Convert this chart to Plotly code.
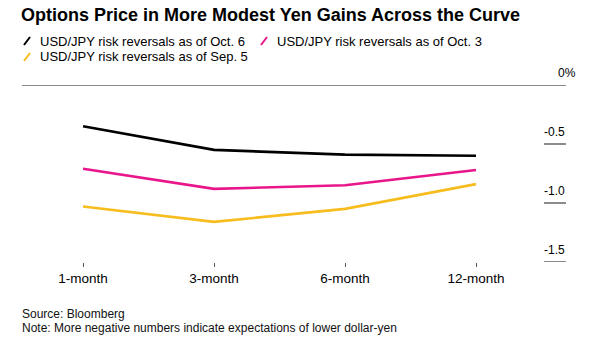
import plotly.graph_objects as go

# ---- data ----
categories = ["1-month", "3-month", "6-month", "12-month"]
oct6 = [-0.35, -0.55, -0.59, -0.60]
oct3 = [-0.71, -0.88, -0.85, -0.72]
sep5 = [-1.03, -1.16, -1.05, -0.84]
series_names = [
    "USD/JPY risk reversals as of Oct. 6",
    "USD/JPY risk reversals as of Oct. 3",
    "USD/JPY risk reversals as of Sep. 5",
]
y_tick_vals = [0, -0.5, -1.0, -1.5]
y_tick_text = ["0%", "-0.5", "-1.0", "-1.5"]
title_text = "Options Price in More Modest Yen Gains Across the Curve"
source_text = "Source: Bloomberg"
note_text = "Note: More negative numbers indicate expectations of lower dollar-yen"

colors = ["#000000", "#e8168a", "#f7bc1e"]
FONT = "Liberation Sans, Arial, sans-serif"

# the page's body margin is removed below (post_script), so figure px == page px
W, H = 615, 356
PL, PR, PT, PB = 22, 566, 85, 262   # plot box in px
ML, MR, MT, MB = PL, W - PR, PT, H - PB
pw, ph = PR - PL, PB - PT


def fx(x_px):
    """page x pixel -> paper fraction"""
    return (x_px - PL) / pw


def fy(y_px):
    """page y pixel -> paper fraction"""
    return (PB - y_px) / ph


fig = go.Figure()
for vals, name, col in zip([oct6, oct3, sep5], series_names, colors):
    fig.add_trace(go.Scatter(x=categories, y=vals, mode="lines", name=name,
                             line=dict(color=col, width=2.6), showlegend=False,
                             hoverinfo="skip"))

shapes = []
annotations = []
GRAY = "#8c8c8c"
# zero line, full width
shapes.append(dict(type="line", xref="paper", yref="y", x0=0, x1=1, y0=0, y1=0,
                   line=dict(color=GRAY, width=2), layer="below"))
# short tick segments + labels on the right
for v, t in zip(y_tick_vals, y_tick_text):
    if v != 0:
        shapes.append(dict(type="line", xref="paper", yref="y",
                           x0=fx(544), x1=1, y0=v, y1=v,
                           line=dict(color=GRAY, width=2)))
    annotations.append(dict(xref="paper", yref="y", x=1, y=v, text=t,
                            showarrow=False, xanchor="right", yanchor="bottom",
                            xshift=12 if t.endswith("%") else 1, yshift=3,
                            font=dict(family=FONT, size=12, color="#000")))

# custom legend (slash icon + text)
leg_rows = [(24, 40, 41, 0), (261, 277, 41, 1), (24, 40, 57, 2)]
for (ix, tx, ty, i) in leg_rows:
    shapes.append(dict(type="line", xref="paper", yref="paper",
                       x0=fx(ix), x1=fx(ix + 6), y0=fy(ty + 4), y1=fy(ty - 4),
                       line=dict(color=colors[i], width=2)))
    annotations.append(dict(xref="paper", yref="paper",
                            x=fx(tx - 2), y=fy(ty),
                            text=series_names[i], showarrow=False,
                            xanchor="left", yanchor="middle",
                            font=dict(family=FONT, size=13, color="#000")))

# source / note
for txt, yy in [(source_text, 314), (note_text, 328)]:
    annotations.append(dict(xref="paper", yref="paper", x=fx(20), y=fy(yy),
                            text=txt, showarrow=False, xanchor="left",
                            yanchor="middle", align="left",
                            font=dict(family=FONT, size=12, color="#111")))

fig.update_layout(
    width=W, height=H,
    margin=dict(l=ML, r=MR, t=MT, b=MB, pad=0),
    paper_bgcolor="white", plot_bgcolor="white",
    title=dict(text="<b>" + title_text + "</b>",
               x=21 / W, xanchor="left", xref="container",
               y=1 - 8.5 / H, yanchor="top", yref="container",
               font=dict(family=FONT, size=18, color="#000")),
    xaxis=dict(range=[-0.466, 3.687], showgrid=False, zeroline=False, showline=False,
               ticks="outside", ticklen=4, tickwidth=1, tickcolor="#555",
               tickfont=dict(family=FONT, size=13.5, color="#000"), fixedrange=True),
    yaxis=dict(range=[-1.5, 0], showgrid=False, zeroline=False, showline=False,
               showticklabels=False, ticks="", fixedrange=True),
    shapes=shapes, annotations=annotations,
)
fig.write_html("out.html", config={"displayModeBar": False, "staticPlot": True},
               post_script="document.body.style.margin='0';document.body.style.padding='0';")
